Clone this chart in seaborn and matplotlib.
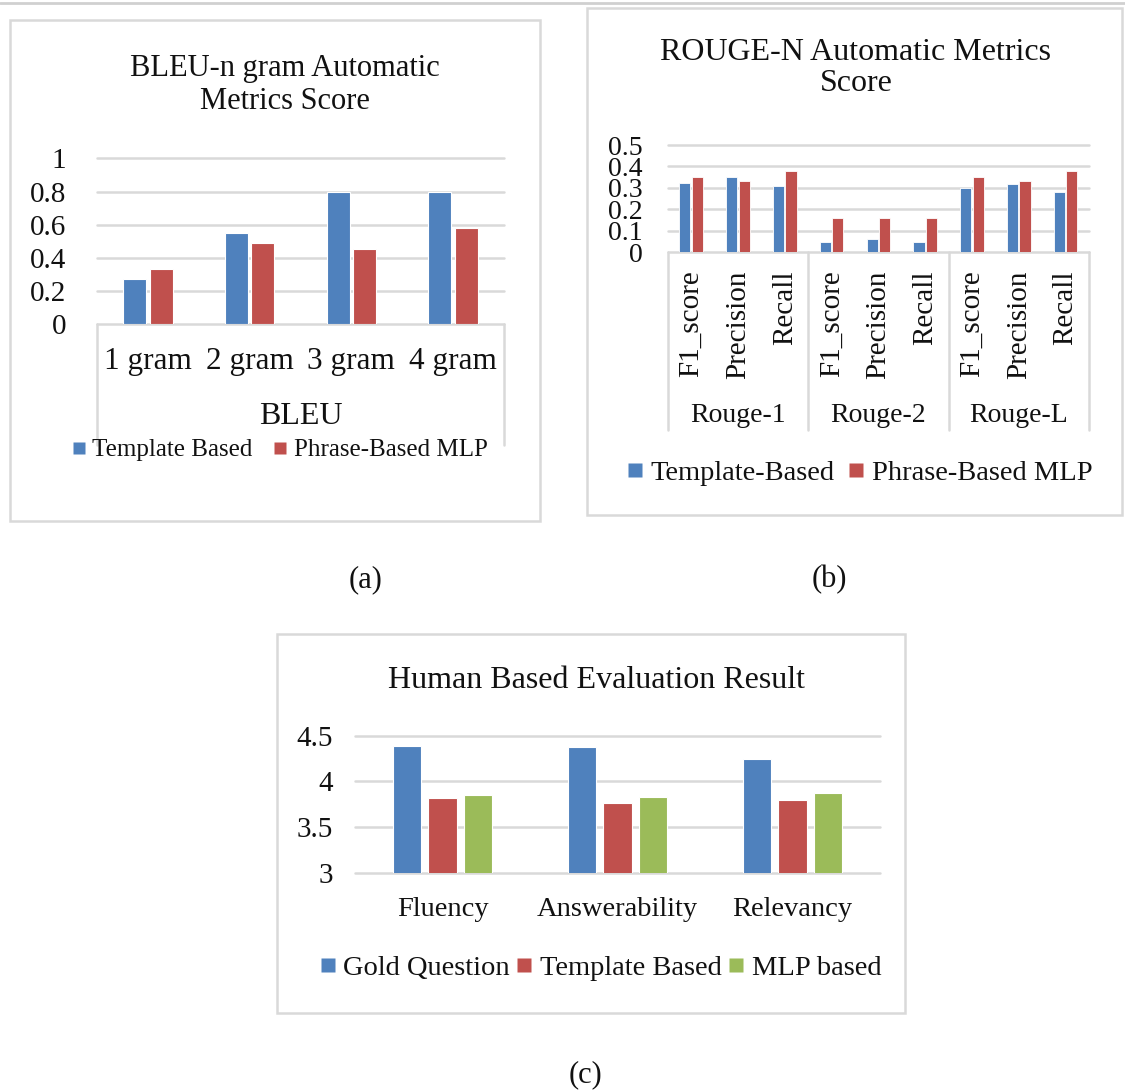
import numpy as np
import pandas as pd
import matplotlib
matplotlib.use("Agg")
import matplotlib.pyplot as plt
from matplotlib.patches import Rectangle
from matplotlib.lines import Line2D
from matplotlib.ticker import FuncFormatter
from matplotlib.transforms import blended_transform_factory
import seaborn as sns

# ---- BLEU n-gram scores ----
bleu_ngrams = ["1 gram", "2 gram", "3 gram", "4 gram"]
bleu_template = [0.27, 0.55, 0.80, 0.80]
bleu_mlp = [0.33, 0.49, 0.45, 0.58]
bleu_series = ["Template Based", "Phrase-Based MLP"]

# ---- ROUGE-N scores ----
rouge_groups = ["Rouge-1", "Rouge-2", "Rouge-L"]
rouge_metrics = ["F1_score", "Precision", "Recall"]
rouge_template = [0.325, 0.35, 0.31, 0.05, 0.06, 0.05, 0.30, 0.32, 0.28]
rouge_mlp = [0.35, 0.33, 0.38, 0.16, 0.16, 0.16, 0.35, 0.33, 0.38]
rouge_series = ["Template-Based", "Phrase-Based MLP"]

# ---- Human evaluation ----
human_criteria = ["Fluency", "Answerability", "Relevancy"]
human_gold = [4.39, 4.38, 4.25]
human_template = [3.82, 3.76, 3.80]
human_mlp = [3.85, 3.83, 3.87]
human_series = ["Gold Question", "Template Based", "MLP based"]

BLUE, RED, GREEN = "#4F81BD", "#C0504D", "#9BBB59"
GRID = "#D9D9D9"
TXT = "#111111"

sns.set_theme(style="white")
plt.rcParams["font.family"] = ["Liberation Serif", "DejaVu Serif"]
plt.rcParams["text.color"] = TXT
plt.rcParams["xtick.color"] = TXT
plt.rcParams["ytick.color"] = TXT

W, H = 1125, 1090
fig = plt.figure(figsize=(W / 100, H / 100), dpi=100)
fig.patch.set_facecolor("white")


def fx(x):
    return x / W


def fy(y):
    return 1 - y / H


def axes_px(left, top, right, bottom):
    return fig.add_axes([fx(left), fy(bottom), (right - left) / W, (bottom - top) / H])


def frame(left, top, right, bottom):
    fig.add_artist(Rectangle((fx(left), fy(bottom)), (right - left) / W, (bottom - top) / H,
                             transform=fig.transFigure, fill=False, ec=GRID, lw=1.8))


def style(ax, ymin, ymax, step, ysize, ypad, xsize, xpad):
    ax.set_ylim(ymin, ymax)
    ax.set_yticks(np.round(np.arange(ymin, ymax + step / 2, step), 3))
    ax.yaxis.set_major_formatter(FuncFormatter(lambda v, p: f"{v:g}"))
    ax.yaxis.grid(True, color=GRID, lw=1.8)
    for gl in ax.get_ygridlines():
        gl.set_clip_on(False)
    ax.set_axisbelow(True)
    for s in ax.spines.values():
        s.set_visible(False)
    ax.tick_params(axis="y", length=0, labelsize=ysize, pad=ypad)
    ax.tick_params(axis="x", length=0, labelsize=xsize, pad=xpad)
    ax.set_xlabel("")
    ax.set_ylabel("")
    ax.set_facecolor("none")


def legend(labels, colors, cx, cy, size, colsp, msize):
    handles = [Line2D([], [], linestyle="none", marker="s", markersize=msize,
                      markerfacecolor=c, markeredgecolor="none") for c in colors]
    fig.legend(handles, labels, loc="center", bbox_to_anchor=(fx(cx), fy(cy)),
               ncol=len(labels), frameon=False, prop={"size": size},
               handlelength=0.5, handletextpad=0.3,
               columnspacing=colsp, borderpad=0, borderaxespad=0)


# outer rule and panel frames
fig.add_artist(Line2D([0, 1], [fy(3), fy(3)], transform=fig.transFigure, color="#D0D0D0", lw=2))
frame(10, 20, 540, 521)
frame(587, 8, 1122, 515)
frame(277, 634, 905, 1013)

# ---------------- (a) BLEU ----------------
ax_a = axes_px(97, 158.5, 504, 323.7)
df_a = pd.DataFrame({
    "ngram": bleu_ngrams * 2,
    "score": bleu_template + bleu_mlp,
    "system": [bleu_series[0]] * len(bleu_ngrams) + [bleu_series[1]] * len(bleu_ngrams),
})
sns.barplot(data=df_a, x="ngram", y="score", hue="system", palette=[BLUE, RED],
            width=0.52, gap=0.13, saturation=1, edgecolor="white", linewidth=0.8,
            errorbar=None, legend=False, ax=ax_a)
ax_a.set_xlim(-0.5, len(bleu_ngrams) - 0.5)
style(ax_a, 0, 1, 0.2, 21, 22, 22.5, 17)
tr_a = blended_transform_factory(ax_a.transData, fig.transFigure)
for xv in [-0.5, len(bleu_ngrams) - 0.5]:
    ax_a.plot([xv, xv], [fy(323.7), fy(445)], transform=tr_a, color=GRID, lw=1.8, clip_on=False)
fig.text(fx(301), fy(417), "BLEU", ha="center", va="center", size=23)
fig.text(fx(285), fy(85), "BLEU-n gram Automatic\nMetrics Score", ha="center", va="center",
         size=22, linespacing=1.2, multialignment="center")
legend(bleu_series, [BLUE, RED], 280, 450, 18, 0.85, 9)
fig.text(fx(366), fy(580), "(a)", ha="center", va="center", size=22)

# ---------------- (b) ROUGE ----------------
ax_b = axes_px(667.7, 145, 1089, 252.3)
rouge_keys = [f"{g}|{m}" for g in rouge_groups for m in rouge_metrics]
df_b = pd.DataFrame({
    "key": rouge_keys * 2,
    "score": rouge_template + rouge_mlp,
    "system": [rouge_series[0]] * len(rouge_keys) + [rouge_series[1]] * len(rouge_keys),
})
sns.barplot(data=df_b, x="key", y="score", hue="system", palette=[BLUE, RED],
            width=0.53, gap=0.1, saturation=1, edgecolor="white", linewidth=0.6,
            errorbar=None, legend=False, ax=ax_b)
ax_b.set_xlim(-0.5, len(rouge_keys) - 0.5)
style(ax_b, 0, 0.5, 0.1, 20, 18, 21, 13)
ax_b.set_xticks(range(len(rouge_keys)))
ax_b.set_xticklabels(rouge_metrics * len(rouge_groups), rotation=90, va="top")
tr_b = blended_transform_factory(ax_b.transData, fig.transFigure)
n_m = len(rouge_metrics)
for i in range(len(rouge_groups) + 1):
    xv = i * n_m - 0.5
    ax_b.plot([xv, xv], [fy(252.3), fy(430)], transform=tr_b, color=GRID, lw=1.8, clip_on=False)
for i, g in enumerate(rouge_groups):
    ax_b.text(i * n_m + (n_m - 1) / 2, fy(415), g, transform=tr_b, ha="center", va="center", size=20)
fig.text(fx(856), fy(68), "ROUGE-N Automatic Metrics\nScore", ha="center", va="center",
         size=23, linespacing=1.12, multialignment="center")
legend(rouge_series, [BLUE, RED], 860, 473, 20.5, 0.5, 10)
fig.text(fx(829), fy(580), "(b)", ha="center", va="center", size=22)

# ---------------- (c) Human evaluation ----------------
ax_c = axes_px(355, 735.7, 880, 873)
n_c = len(human_criteria)
df_c = pd.DataFrame({
    "criterion": human_criteria * 3,
    "score": human_gold + human_template + human_mlp,
    "system": [human_series[0]] * n_c + [human_series[1]] * n_c + [human_series[2]] * n_c,
})
sns.barplot(data=df_c, x="criterion", y="score", hue="system", palette=[BLUE, RED, GREEN],
            width=0.61, gap=0.19, saturation=1, edgecolor="white", linewidth=0.8,
            errorbar=None, legend=False, ax=ax_c)
ax_c.set_xlim(-0.5, n_c - 0.5)
style(ax_c, 3, 4.5, 0.5, 21, 16, 20.5, 17)
fig.text(fx(597), fy(680), "Human Based Evaluation Result", ha="center", va="center", size=23)
legend(human_series, [BLUE, RED, GREEN], 601, 968, 20.5, 0.25, 10)
fig.text(fx(585), fy(1075), "(c)", ha="center", va="center", size=22)

fig.savefig("out.png", dpi=100, facecolor="white")
